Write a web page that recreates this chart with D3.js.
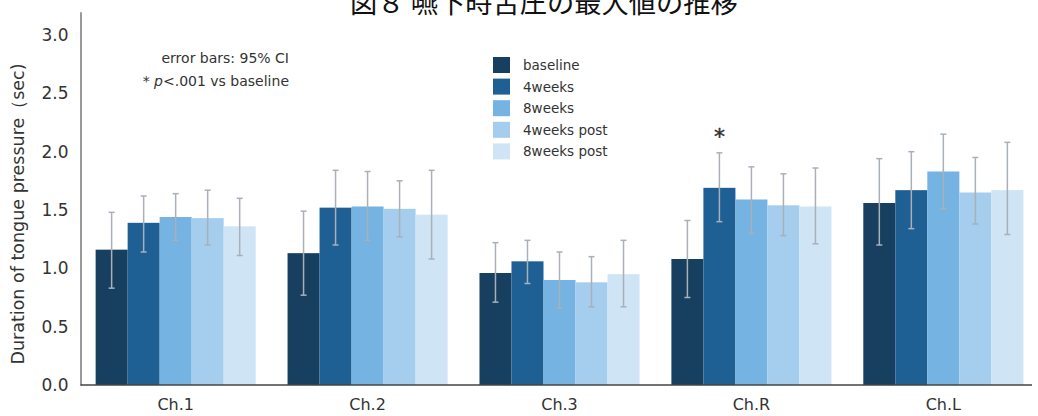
<!DOCTYPE html>
<html>
<head>
<meta charset="utf-8">
<script src="https://cdn.jsdelivr.net/npm/d3@7"></script>
<style>
  html, body { margin: 0; padding: 0; background: #fff; }
  svg { display: block; }
  text { font-family: "DejaVu Sans", Verdana, sans-serif; fill: #333; }
  .cjk { font-family: "Noto Sans CJK JP", "Noto Sans CJK SC", sans-serif; fill: #111; }
</style>
</head>
<body>
<svg id="chart" width="1038" height="416"></svg>
<script>
// Channels and measurement sessions
const channels = ["Ch.1", "Ch.2", "Ch.3", "Ch.R", "Ch.L"];
const sessions = ["baseline", "4weeks", "8weeks", "4weeks post", "8weeks post"];
const sessionColors = ["#173f5f", "#1e5f94", "#74b3e2", "#a4cdee", "#cfe4f5"];

// Mean duration (sec), one array per session, in channel order
const baseline   = [1.16, 1.13, 0.96, 1.08, 1.56];
const weeks4     = [1.39, 1.52, 1.06, 1.69, 1.67];
const weeks8     = [1.44, 1.53, 0.90, 1.59, 1.83];
const weeks4post = [1.43, 1.51, 0.88, 1.54, 1.65];
const weeks8post = [1.36, 1.46, 0.95, 1.53, 1.67];

// 95% CI lower / upper bounds, same layout
const ciLow = [
  [0.83, 0.77, 0.71, 0.75, 1.20],
  [1.14, 1.20, 0.87, 1.40, 1.34],
  [1.24, 1.24, 0.66, 1.30, 1.51],
  [1.20, 1.27, 0.67, 1.28, 1.38],
  [1.11, 1.08, 0.67, 1.21, 1.29]
];
const ciHigh = [
  [1.48, 1.49, 1.22, 1.41, 1.94],
  [1.62, 1.84, 1.24, 1.99, 2.00],
  [1.64, 1.83, 1.14, 1.87, 2.15],
  [1.67, 1.75, 1.10, 1.81, 1.95],
  [1.60, 1.84, 1.24, 1.86, 2.08]
];

// Significant differences vs baseline: [session index, channel index]
const significant = [[1, 3]];

const yTicks = [0, 0.5, 1.0, 1.5, 2.0, 2.5, 3.0];
const titleText = "図８ 嚥下時舌圧の最大値の推移";
const yTitle = "Duration of tongue pressure（sec)";
const notes = ["error bars: 95% CI", "p<.001 vs baseline"];

const seriesValues = [baseline, weeks4, weeks8, weeks4post, weeks8post];
const rows = [];
sessions.forEach((s, si) => {
  channels.forEach((c, ci) => {
    rows.push({ session: s, si, channel: c, ci,
      value: seriesValues[si][ci], lo: ciLow[si][ci], hi: ciHigh[si][ci] });
  });
});

const svg = d3.select("#chart");
const axisX = 80.5, baseY = 385;

const y = d3.scaleLinear().domain([0, 3.2]).range([baseY, baseY - 3.2 * 116.67]);
const x0 = d3.scaleBand().domain(channels).range([84.5, 1034.5])
  .paddingInner(0.166).paddingOuter(0.058);
const x1 = d3.scaleBand().domain(sessions).range([0, x0.bandwidth()]).padding(0);
const color = d3.scaleOrdinal().domain(sessions).range(sessionColors);

// Title (runs off the top edge); sized to span a fixed width
const title = svg.append("text").attr("class", "cjk")
  .attr("x", 350).attr("y", 13)
  .attr("font-size", 27)
  .text(titleText);
const tw = title.node().getComputedTextLength();
if (tw > 0) title.attr("font-size", 27 * 388 / tw);

// Bars
svg.append("g").selectAll("rect").data(rows).join("rect")
  .attr("x", d => x0(d.channel) + x1(d.session))
  .attr("y", d => y(d.value))
  .attr("width", x1.bandwidth())
  .attr("height", d => y(0) - y(d.value))
  .attr("fill", d => color(d.session));

// Error bars
const eb = svg.append("g").attr("stroke", "#a9b0b8").attr("stroke-width", 1.5).attr("fill", "none");
rows.forEach(d => {
  const cx = x0(d.channel) + x1(d.session) + x1.bandwidth() / 2;
  eb.append("line").attr("x1", cx).attr("x2", cx).attr("y1", y(d.lo)).attr("y2", y(d.hi));
  eb.append("line").attr("x1", cx - 3).attr("x2", cx + 3).attr("y1", y(d.lo)).attr("y2", y(d.lo));
  eb.append("line").attr("x1", cx - 3).attr("x2", cx + 3).attr("y1", y(d.hi)).attr("y2", y(d.hi));
});

// Significance markers
significant.forEach(([si, ci]) => {
  const cx = x0(channels[ci]) + x1(sessions[si]) + x1.bandwidth() / 2;
  svg.append("text").attr("x", cx).attr("y", y(ciHigh[si][ci]) - 9)
    .attr("text-anchor", "middle").attr("font-size", 22).attr("fill", "#222")
    .attr("stroke", "#222").attr("stroke-width", 0.4)
    .text("*");
});

// Y axis
const yAxis = d3.axisLeft(y).tickValues(yTicks).tickFormat(d3.format(".1f"))
  .tickSize(0).tickPadding(12);
const gy = svg.append("g").attr("transform", `translate(${axisX},0)`).call(yAxis);
gy.select(".domain").attr("stroke", "#777").attr("stroke-width", 1.5);
gy.selectAll(".tick text").attr("font-size", 17).attr("fill", "#333")
  .attr("font-family", "DejaVu Sans, sans-serif");

// X axis baseline and labels
const xAxis = d3.axisBottom(x0).tickSize(0).tickPadding(14);
const gx = svg.append("g").attr("transform", `translate(0,${baseY})`).call(xAxis);
gx.select(".domain").attr("stroke", "#444").attr("stroke-width", 1.5)
  .attr("d", `M${axisX},0H1032`);
gx.selectAll(".tick text").attr("font-size", 16).attr("fill", "#333")
  .attr("font-family", "DejaVu Sans, sans-serif");

// Y axis title
svg.append("text")
  .attr("transform", `translate(24,${(y(0) + y(3.0)) / 2 + 4}) rotate(-90)`)
  .attr("text-anchor", "middle").attr("font-size", 17.5).attr("fill", "#333")
  .text(yTitle);

// Notes
svg.append("text").attr("x", 289).attr("y", 63).attr("text-anchor", "end")
  .attr("font-size", 14).text(notes[0]);
const n2 = svg.append("text").attr("x", 289).attr("y", 86).attr("text-anchor", "end")
  .attr("font-size", 14);
n2.append("tspan").text("* ");
n2.append("tspan").attr("font-style", "italic").text(notes[1].slice(0, 1));
n2.append("tspan").text(notes[1].slice(1));

// Legend
const lg = svg.append("g").attr("transform", "translate(493,57)");
sessions.forEach((s, i) => {
  const g = lg.append("g").attr("transform", `translate(0,${i * 21.6})`);
  g.append("rect").attr("width", 17).attr("height", 16).attr("fill", color(s));
  g.append("text").attr("x", 30).attr("y", 13).attr("font-size", 13.5).text(s);
});
</script>
</body>
</html>
